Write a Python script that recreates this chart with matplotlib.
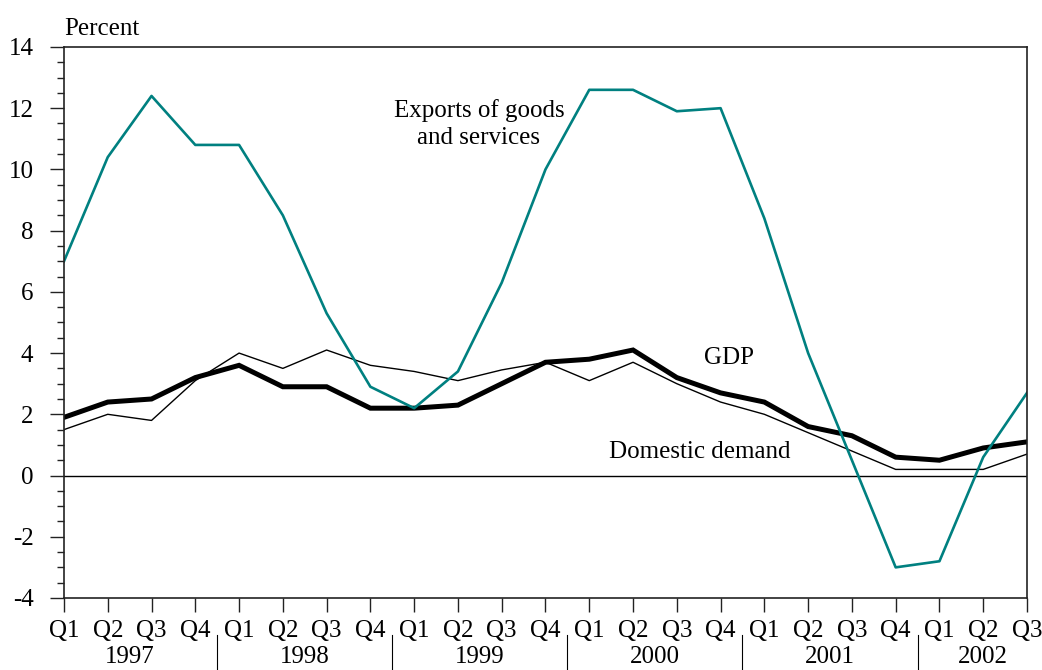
import matplotlib.pyplot as plt
import matplotlib.transforms as mtransforms
from matplotlib.ticker import MultipleLocator

plt.rcParams["font.family"] = ["Liberation Serif", "DejaVu Serif"]
plt.rcParams["axes.unicode_minus"] = False

quarters = ["Q1", "Q2", "Q3", "Q4"] * 5 + ["Q1", "Q2", "Q3"]
years = ["1997", "1998", "1999", "2000", "2001", "2002"]

exports = [7.0, 10.4, 12.4, 10.8, 10.8, 8.5, 5.3, 2.9, 2.2, 3.4, 6.3, 10.0,
           12.6, 12.6, 11.9, 12.0, 8.4, 4.0, 0.5, -3.0, -2.8, 0.6, 2.7]
gdp = [1.9, 2.4, 2.5, 3.2, 3.6, 2.9, 2.9, 2.2, 2.2, 2.3, 3.0, 3.7,
       3.8, 4.1, 3.2, 2.7, 2.4, 1.6, 1.3, 0.6, 0.5, 0.9, 1.1]
domestic = [1.5, 2.0, 1.8, 3.1, 4.0, 3.5, 4.1, 3.6, 3.4, 3.1, 3.45, 3.7,
            3.1, 3.7, 3.0, 2.4, 2.0, 1.4, 0.8, 0.2, 0.2, 0.2, 0.7]

x = list(range(len(quarters)))
fs = 18

fig = plt.figure(figsize=(10.42, 6.7), dpi=100)
ax = fig.add_axes([0.0614, 0.1075, 0.9242, 0.8224])

ax.axhline(0, color="black", linewidth=1.0)
ax.plot(x, domestic, color="black", linewidth=1.0)
ax.plot(x, gdp, color="black", linewidth=3.6, solid_joinstyle="miter")
ax.plot(x, exports, color="#008080", linewidth=1.9)

ax.set_xlim(0, len(quarters) - 1)
ax.set_ylim(-4, 14)
ax.yaxis.set_major_locator(MultipleLocator(2))
ax.yaxis.set_minor_locator(MultipleLocator(0.5))
ax.set_xticks(x)
ax.set_xticklabels(quarters)

ax.tick_params(axis="y", which="major", direction="out", length=10, width=1,
               labelsize=fs, pad=12, color="#222222")
ax.tick_params(axis="y", which="minor", direction="out", length=5, width=1,
               color="#222222")
ax.tick_params(axis="x", direction="out", length=10, width=1, labelsize=fs,
               pad=6, color="#222222")
for side in ["top", "bottom", "left", "right"]:
    ax.spines[side].set_color("#222222")
    ax.spines[side].set_linewidth(1.2)

ax.text(0, 1.012, "Percent", transform=ax.transAxes, fontsize=fs,
        ha="left", va="bottom")

# year labels and dividers below the quarter labels
trans = mtransforms.blended_transform_factory(ax.transData, ax.transAxes)
for k, year in enumerate(years):
    start = 4 * k
    end = min(start + 3, len(quarters) - 1)
    ax.text((start + end) / 2, -0.108, year, transform=trans, fontsize=fs,
            ha="center", va="center")
    if k > 0:
        ax.plot([start - 0.5, start - 0.5], [-0.068, -0.14], transform=trans,
                color="black", linewidth=0.8, clip_on=False)

ax.text(9.48, 11.48, "Exports of goods\nand services", fontsize=fs,
        ha="center", va="center", linespacing=1.3)
ax.text(15.2, 3.85, "GDP", fontsize=fs, ha="center", va="center")
ax.text(14.53, 0.78, "Domestic demand", fontsize=fs, ha="center",
        va="center")

fig.savefig("out.png", dpi=100)
